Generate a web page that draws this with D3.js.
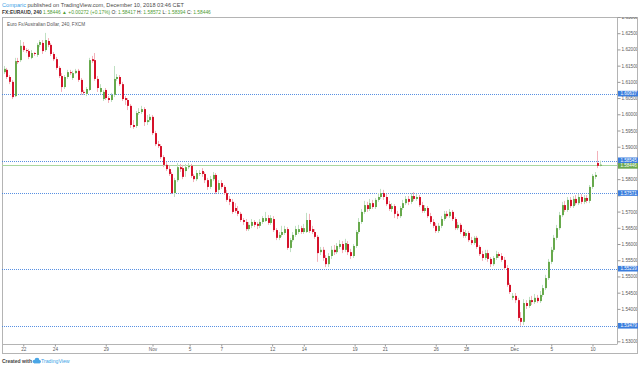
<!DOCTYPE html>
<html>
<head>
<meta charset="utf-8">
<script src="https://cdn.jsdelivr.net/npm/d3@7"></script>
<style>
body { margin: 0; background: #fff; }
svg { display: block; font-family: "Liberation Sans", Arial, sans-serif; }
</style>
</head>
<body>
<svg width="640" height="368"></svg>
<script>
// EURAUD 4h candles, Oct 19 - Dec 10 2018
var opens = [
  1.6130, 1.6137, 1.6115, 1.6100, 1.6056, 1.6164, 1.6167, 1.6211, 1.6198, 1.6195,
  1.6174, 1.6189, 1.6183, 1.6214, 1.6220, 1.6198, 1.6226, 1.6214, 1.6186, 1.6170,
  1.6143, 1.6118, 1.6084, 1.6115, 1.6130, 1.6112, 1.6127, 1.6134, 1.6106, 1.6069,
  1.6063, 1.6075, 1.6170, 1.6167, 1.6109, 1.6069, 1.6047, 1.6075, 1.6050, 1.6044,
  1.6060, 1.6109, 1.6115, 1.6093, 1.6050, 1.6044, 1.6026, 1.5967, 1.5964, 1.6004,
  1.6007, 1.6016, 1.5976, 1.5982, 1.5992, 1.5942, 1.5908, 1.5902, 1.5868, 1.5844,
  1.5831, 1.5816, 1.5757, 1.5797, 1.5837, 1.5834, 1.5825, 1.5837, 1.5841, 1.5810,
  1.5800, 1.5816, 1.5825, 1.5816, 1.5797, 1.5776, 1.5800, 1.5813, 1.5767, 1.5788,
  1.5776, 1.5757, 1.5739, 1.5730, 1.5711, 1.5702, 1.5693, 1.5674, 1.5668, 1.5646,
  1.5656, 1.5668, 1.5662, 1.5656, 1.5668, 1.5671, 1.5680, 1.5665, 1.5677, 1.5643,
  1.5619, 1.5628, 1.5634, 1.5646, 1.5588, 1.5612, 1.5628, 1.5637, 1.5649, 1.5637,
  1.5637, 1.5674, 1.5646, 1.5637, 1.5622, 1.5575, 1.5582, 1.5557, 1.5538, 1.5563,
  1.5582, 1.5575, 1.5591, 1.5600, 1.5582, 1.5600, 1.5575, 1.5563, 1.5594, 1.5637,
  1.5668, 1.5699, 1.5720, 1.5708, 1.5726, 1.5714, 1.5736, 1.5745, 1.5757, 1.5745,
  1.5723, 1.5708, 1.5717, 1.5693, 1.5686, 1.5711, 1.5726, 1.5739, 1.5730, 1.5748,
  1.5739, 1.5745, 1.5720, 1.5702, 1.5711, 1.5686, 1.5668, 1.5656, 1.5640, 1.5656,
  1.5677, 1.5693, 1.5686, 1.5699, 1.5677, 1.5649, 1.5659, 1.5637, 1.5625, 1.5634,
  1.5612, 1.5603, 1.5619, 1.5591, 1.5569, 1.5557, 1.5572, 1.5554, 1.5538, 1.5557,
  1.5569, 1.5563, 1.5551, 1.5526, 1.5474, 1.5434, 1.5440, 1.5427, 1.5372, 1.5360,
  1.5418, 1.5409, 1.5427, 1.5421, 1.5434, 1.5424, 1.5443, 1.5464, 1.5495, 1.5545,
  1.5582, 1.5619, 1.5649, 1.5689, 1.5720, 1.5705, 1.5736, 1.5717, 1.5739, 1.5726,
  1.5745, 1.5730, 1.5742, 1.5733, 1.5776, 1.5807, 1.5850, 1.58417
];
var highs = [
  1.6149, 1.6143, 1.6121, 1.6106, 1.6174, 1.6174, 1.6229, 1.6223, 1.6204, 1.6201,
  1.6198, 1.6192, 1.6220, 1.6229, 1.6229, 1.6251, 1.6235, 1.6220, 1.6192, 1.6177,
  1.6149, 1.6127, 1.6121, 1.6137, 1.6137, 1.6134, 1.6140, 1.6140, 1.6112, 1.6075,
  1.6084, 1.6174, 1.6180, 1.6189, 1.6118, 1.6093, 1.6075, 1.6081, 1.6056, 1.6066,
  1.6149, 1.6124, 1.6121, 1.6100, 1.6056, 1.6050, 1.6032, 1.5982, 1.6010, 1.6019,
  1.6026, 1.6022, 1.5998, 1.6001, 1.5998, 1.5949, 1.5918, 1.5908, 1.5874, 1.5853,
  1.5841, 1.5822, 1.5804, 1.5850, 1.5847, 1.5844, 1.5847, 1.5850, 1.5847, 1.5816,
  1.5828, 1.5828, 1.5834, 1.5822, 1.5804, 1.5810, 1.5822, 1.5819, 1.5797, 1.5797,
  1.5782, 1.5767, 1.5748, 1.5739, 1.5726, 1.5717, 1.5699, 1.5680, 1.5677, 1.5668,
  1.5677, 1.5674, 1.5668, 1.5677, 1.5686, 1.5699, 1.5689, 1.5689, 1.5686, 1.5649,
  1.5637, 1.5656, 1.5656, 1.5652, 1.5619, 1.5637, 1.5656, 1.5659, 1.5656, 1.5662,
  1.5696, 1.5693, 1.5656, 1.5646, 1.5628, 1.5591, 1.5591, 1.5566, 1.5572, 1.5594,
  1.5597, 1.5603, 1.5612, 1.5609, 1.5616, 1.5609, 1.5585, 1.5600, 1.5643, 1.5680,
  1.5708, 1.5733, 1.5730, 1.5739, 1.5736, 1.5742, 1.5757, 1.5770, 1.5767, 1.5754,
  1.5733, 1.5726, 1.5723, 1.5702, 1.5717, 1.5736, 1.5748, 1.5748, 1.5757, 1.5760,
  1.5754, 1.5751, 1.5730, 1.5720, 1.5717, 1.5696, 1.5677, 1.5665, 1.5665, 1.5686,
  1.5702, 1.5702, 1.5708, 1.5705, 1.5683, 1.5668, 1.5665, 1.5646, 1.5643, 1.5640,
  1.5622, 1.5625, 1.5625, 1.5597, 1.5579, 1.5582, 1.5582, 1.5560, 1.5563, 1.5579,
  1.5575, 1.5572, 1.5560, 1.5535, 1.5480, 1.5449, 1.5449, 1.5434, 1.5390, 1.5430,
  1.5427, 1.5437, 1.5440, 1.5446, 1.5443, 1.5455, 1.5474, 1.5505, 1.5554, 1.5591,
  1.5628, 1.5659, 1.5699, 1.5730, 1.5733, 1.5745, 1.5745, 1.5748, 1.5751, 1.5754,
  1.5754, 1.5751, 1.5751, 1.5782, 1.5816, 1.5822, 1.5887, 1.58572
];
var lows = [
  1.6124, 1.6109, 1.6093, 1.6047, 1.6053, 1.6155, 1.6161, 1.6192, 1.6189, 1.6170,
  1.6170, 1.6180, 1.6177, 1.6207, 1.6186, 1.6192, 1.6207, 1.6180, 1.6164, 1.6137,
  1.6112, 1.6069, 1.6078, 1.6109, 1.6121, 1.6106, 1.6124, 1.6100, 1.6060, 1.6060,
  1.6056, 1.6072, 1.6158, 1.6103, 1.6069, 1.6063, 1.6041, 1.6044, 1.6035, 1.6038,
  1.6053, 1.6103, 1.6087, 1.6041, 1.6029, 1.6013, 1.5958, 1.5955, 1.5958, 1.5998,
  1.6001, 1.5964, 1.5967, 1.5976, 1.5936, 1.5902, 1.5896, 1.5862, 1.5837, 1.5825,
  1.5810, 1.5754, 1.5745, 1.5791, 1.5822, 1.5800, 1.5807, 1.5831, 1.5804, 1.5791,
  1.5794, 1.5810, 1.5807, 1.5788, 1.5767, 1.5770, 1.5794, 1.5754, 1.5757, 1.5770,
  1.5751, 1.5730, 1.5720, 1.5693, 1.5696, 1.5686, 1.5668, 1.5659, 1.5640, 1.5640,
  1.5649, 1.5652, 1.5646, 1.5649, 1.5662, 1.5668, 1.5659, 1.5659, 1.5637, 1.5612,
  1.5612, 1.5622, 1.5628, 1.5582, 1.5575, 1.5606, 1.5622, 1.5631, 1.5631, 1.5631,
  1.5634, 1.5634, 1.5631, 1.5616, 1.5545, 1.5566, 1.5548, 1.5529, 1.5529, 1.5554,
  1.5566, 1.5569, 1.5585, 1.5572, 1.5575, 1.5566, 1.5554, 1.5557, 1.5588, 1.5631,
  1.5662, 1.5693, 1.5699, 1.5702, 1.5708, 1.5708, 1.5730, 1.5739, 1.5736, 1.5717,
  1.5702, 1.5699, 1.5680, 1.5677, 1.5680, 1.5705, 1.5720, 1.5720, 1.5723, 1.5733,
  1.5733, 1.5714, 1.5696, 1.5696, 1.5680, 1.5662, 1.5649, 1.5634, 1.5634, 1.5649,
  1.5671, 1.5680, 1.5680, 1.5671, 1.5643, 1.5643, 1.5631, 1.5619, 1.5619, 1.5606,
  1.5597, 1.5597, 1.5585, 1.5563, 1.5548, 1.5551, 1.5545, 1.5529, 1.5532, 1.5551,
  1.5557, 1.5545, 1.5520, 1.5468, 1.5446, 1.5427, 1.5418, 1.5363, 1.5348, 1.5350,
  1.5400, 1.5403, 1.5412, 1.5415, 1.5418, 1.5418, 1.5437, 1.5458, 1.5489, 1.5538,
  1.5575, 1.5612, 1.5643, 1.5683, 1.5699, 1.5699, 1.5711, 1.5711, 1.5720, 1.5720,
  1.5723, 1.5723, 1.5726, 1.5726, 1.5770, 1.5800, 1.5834, 1.58394
];
var closes = [
  1.6140, 1.6115, 1.6100, 1.6053, 1.6164, 1.6161, 1.6211, 1.6198, 1.6195, 1.6177,
  1.6189, 1.6186, 1.6214, 1.6223, 1.6195, 1.6229, 1.6214, 1.6186, 1.6170, 1.6143,
  1.6118, 1.6084, 1.6115, 1.6130, 1.6127, 1.6127, 1.6134, 1.6106, 1.6069, 1.6066,
  1.6078, 1.6167, 1.6164, 1.6109, 1.6081, 1.6081, 1.6069, 1.6050, 1.6044, 1.6060,
  1.6109, 1.6115, 1.6093, 1.6047, 1.6044, 1.6026, 1.5967, 1.5961, 1.6004, 1.6007,
  1.6016, 1.5976, 1.5982, 1.5992, 1.5942, 1.5908, 1.5902, 1.5868, 1.5844, 1.5831,
  1.5816, 1.5757, 1.5797, 1.5837, 1.5831, 1.5807, 1.5837, 1.5841, 1.5810, 1.5800,
  1.5819, 1.5819, 1.5816, 1.5797, 1.5776, 1.5800, 1.5813, 1.5760, 1.5788, 1.5776,
  1.5757, 1.5736, 1.5730, 1.5699, 1.5702, 1.5693, 1.5674, 1.5668, 1.5646, 1.5659,
  1.5668, 1.5659, 1.5656, 1.5668, 1.5680, 1.5680, 1.5665, 1.5680, 1.5643, 1.5619,
  1.5628, 1.5637, 1.5646, 1.5588, 1.5612, 1.5628, 1.5646, 1.5646, 1.5637, 1.5649,
  1.5674, 1.5640, 1.5637, 1.5622, 1.5572, 1.5582, 1.5557, 1.5538, 1.5563, 1.5582,
  1.5575, 1.5594, 1.5600, 1.5582, 1.5603, 1.5575, 1.5563, 1.5594, 1.5637, 1.5668,
  1.5699, 1.5720, 1.5708, 1.5726, 1.5714, 1.5736, 1.5745, 1.5757, 1.5745, 1.5723,
  1.5708, 1.5717, 1.5693, 1.5686, 1.5711, 1.5726, 1.5739, 1.5730, 1.5748, 1.5739,
  1.5745, 1.5720, 1.5702, 1.5711, 1.5686, 1.5668, 1.5656, 1.5640, 1.5656, 1.5677,
  1.5693, 1.5686, 1.5699, 1.5677, 1.5649, 1.5659, 1.5637, 1.5625, 1.5634, 1.5612,
  1.5603, 1.5619, 1.5591, 1.5569, 1.5557, 1.5572, 1.5554, 1.5538, 1.5557, 1.5569,
  1.5563, 1.5551, 1.5526, 1.5474, 1.5452, 1.5440, 1.5427, 1.5372, 1.5360, 1.5418,
  1.5409, 1.5427, 1.5421, 1.5434, 1.5424, 1.5443, 1.5464, 1.5495, 1.5545, 1.5582,
  1.5619, 1.5649, 1.5689, 1.5720, 1.5705, 1.5736, 1.5717, 1.5739, 1.5726, 1.5745,
  1.5730, 1.5742, 1.5733, 1.5776, 1.5810, 1.5813, 1.5841, 1.58446
];

// date labels and the candle index they sit on
var dayLabels = ["22", "24", "29", "Nov", "5", "7", "12", "14", "19", "21", "26", "28", "Dec", "5", "10"];
var dayIndex = [7, 18.5, 37, 54, 67.5, 79, 97.5, 109, 127.5, 138.5, 157, 168, 185.5, 199, 214];

// horizontal lines drawn on the chart
var levels = [1.60637, 1.58545, 1.57571, 1.55239, 1.53479];
var lastPrice = 1.58446;

var svg = d3.select("svg"),
    width = +svg.attr("width"),
    height = +svg.attr("height");

var plotLeft = 2, plotRight = 617, plotTop = 17, plotBottom = 344,
    frameRight = 637, frameBottom = 353;

var upColor = "#67a94c", downColor = "#d5112a",
    upWick = "#bfe0c2", downWick = "#f3b1ba",
    levelColor = "#3b7ddd", frameColor = "#b4b4b4", textColor = "#5a5a5a";

var candles = opens.map(function(o, i) {
    return { i: i, o: o, h: highs[i], l: lows[i], c: closes[i] };
});

var x = d3.scaleLinear().domain([-0.73, 222.91]).range([plotLeft, plotRight]);
var y = d3.scaleLinear().domain([1.52917, 1.63]).range([plotBottom, plotTop]);

svg.append("rect").attr("width", width).attr("height", height).attr("fill", "#fff");

var defs = svg.append("defs");
defs.append("clipPath").attr("id", "plot")
    .append("rect").attr("x", plotLeft).attr("y", plotTop)
    .attr("width", plotRight - plotLeft).attr("height", plotBottom - plotTop);
defs.append("clipPath").attr("id", "scale")
    .append("rect").attr("x", plotRight).attr("y", plotTop)
    .attr("width", frameRight - plotRight).attr("height", frameBottom - plotTop);

// header
var head1 = svg.append("text").attr("x", 2).attr("y", 6.5)
    .style("font-size", "5.6px").attr("fill", "#4a4a4a");
head1.append("tspan").attr("fill", "#3b9fe6").text("Comparic");
head1.append("tspan").text(" published on TradingView.com, December 10, 2018 03:46 CET");

var head2 = svg.append("text").attr("x", 2).attr("y", 13.5)
    .style("font-size", "4.9px").attr("fill", "#333");
var green = "#4f9d35";
head2.append("tspan").style("font-weight", "bold").text("FX:EURAUD, 240");
[[" 1.58446 \u25B2 +0.00272 (+0.17%)", green], [" O: ", "#333"], ["1.58417", green],
 [" H: ", "#333"], ["1.58572", green], [" L: ", "#333"], ["1.58394", green],
 [" C: ", "#333"], ["1.58446", green]].forEach(function(p) {
    head2.append("tspan").attr("fill", p[1]).style("white-space", "pre").text(p[0]);
});

// frame
svg.append("rect")
    .attr("x", plotLeft + 0.5).attr("y", plotTop + 0.5)
    .attr("width", frameRight - plotLeft).attr("height", frameBottom - plotTop)
    .attr("fill", "none").attr("stroke", frameColor);

svg.append("text").attr("x", 7).attr("y", 25.8)
    .style("font-size", "4.7px").attr("fill", "#555")
    .text("Euro Fx/Australian Dollar, 240, FXCM");

var plot = svg.append("g").attr("clip-path", "url(#plot)");

// last price line
plot.append("line")
    .attr("x1", plotLeft).attr("x2", plotRight)
    .attr("y1", Math.round(y(lastPrice)) + 0.5).attr("y2", Math.round(y(lastPrice)) + 0.5)
    .attr("stroke", "#aad6a0").attr("stroke-width", 1);

plot.selectAll(".level")
    .data(levels)
    .enter().append("line")
    .attr("class", "level")
    .attr("x1", plotLeft).attr("x2", plotRight)
    .attr("y1", function(d) { return Math.round(y(d)) + 0.5; })
    .attr("y2", function(d) { return Math.round(y(d)) + 0.5; })
    .attr("stroke", levelColor).attr("stroke-width", 1)
    .attr("stroke-dasharray", "1,1").attr("opacity", 0.85);

plot.selectAll(".wick")
    .data(candles)
    .enter().append("line")
    .attr("class", "wick")
    .attr("x1", function(d) { return Math.floor(x(d.i)) + 0.5; })
    .attr("x2", function(d) { return Math.floor(x(d.i)) + 0.5; })
    .attr("y1", function(d) { return y(d.h); })
    .attr("y2", function(d) { return y(d.l); })
    .attr("stroke", function(d) { return d.c >= d.o ? upWick : downWick; })
    .attr("stroke-width", 1);

plot.selectAll(".body")
    .data(candles)
    .enter().append("rect")
    .attr("class", "body")
    .attr("x", function(d) { return Math.floor(x(d.i)); })
    .attr("width", 2)
    .attr("y", function(d) { return y(Math.max(d.o, d.c)); })
    .attr("height", function(d) { return Math.max(1, Math.abs(y(d.o) - y(d.c))); })
    .attr("fill", function(d) { return d.c >= d.o ? upColor : downColor; });

// price scale
svg.append("line")
    .attr("x1", plotRight + 0.5).attr("x2", plotRight + 0.5)
    .attr("y1", plotTop).attr("y2", plotBottom)
    .attr("stroke", frameColor);

var tags = levels.map(function(p) { return { p: p, fill: levelColor }; })
    .concat([{ p: lastPrice, fill: "#6aa84f" }]);

var yAxis = svg.append("g")
    .attr("clip-path", "url(#scale)")
    .append("g")
    .attr("transform", "translate(" + (plotRight + 0.5) + ",0)")
    .call(d3.axisRight(y).ticks(20).tickSize(3).tickPadding(1).tickFormat(d3.format(".5f")));
yAxis.select(".domain").remove();
yAxis.selectAll("line").attr("stroke", "#999");
yAxis.selectAll("text").attr("fill", textColor).style("font-size", "4.7px")
    .style("font-family", "'Liberation Sans', Arial, sans-serif");
// tick labels hidden behind a tag are dropped, as the scale does
yAxis.selectAll(".tick")
    .filter(function(d) {
        return tags.some(function(t) { return Math.abs(y(t.p) - y(d)) < 4; });
    })
    .select("text").remove();

// spread tags that sit on top of each other
var tagY = tags.map(function(t) { return y(t.p); });
tags.forEach(function(a, i) {
    tags.forEach(function(b, j) {
        if (j <= i) return;
        var gap = tagY[j] - tagY[i];
        if (Math.abs(gap) < 5.6) {
            var push = (5.6 - Math.abs(gap)) / 2 * (gap >= 0 ? 1 : -1);
            tagY[i] -= push;
            tagY[j] += push;
        }
    });
});

var tag = svg.selectAll(".tag")
    .data(tags)
    .enter().append("g")
    .attr("class", "tag")
    .attr("transform", function(d, i) { return "translate(" + (plotRight + 1) + "," + tagY[i] + ")"; });
tag.append("rect")
    .attr("x", 0).attr("y", -2.8).attr("width", 20).attr("height", 5.6)
    .attr("fill", function(d) { return d.fill; });
tag.append("text")
    .attr("x", 2.5).attr("y", 1.6)
    .style("font-size", "4.5px").attr("fill", "#fff")
    .text(function(d) { return d.p.toFixed(5); });

// time scale
svg.append("line")
    .attr("x1", plotLeft).attr("x2", plotRight + 0.5)
    .attr("y1", plotBottom + 0.5).attr("y2", plotBottom + 0.5)
    .attr("stroke", frameColor);

var xAxis = svg.append("g")
    .attr("transform", "translate(0," + (plotBottom + 0.5) + ")")
    .call(d3.axisBottom(x).tickValues(dayIndex).tickSize(2).tickPadding(1.2)
        .tickFormat(function(d, i) { return dayLabels[i]; }));
xAxis.select(".domain").remove();
xAxis.selectAll("line").attr("stroke", "#999");
xAxis.selectAll("text").attr("fill", textColor).style("font-size", "4.7px")
    .style("font-family", "'Liberation Sans', Arial, sans-serif");

// footer
svg.append("text").attr("x", 2).attr("y", 363)
    .style("font-size", "5px").style("font-weight", "bold").attr("fill", "#444")
    .text("Created with");
var logo = svg.append("g").attr("transform", "translate(36,361)").attr("fill", "#4aa6e6");
logo.append("circle").attr("cx", -1.5).attr("cy", 0.5).attr("r", 1.8);
logo.append("circle").attr("cx", 1).attr("cy", -0.8).attr("r", 2.4);
logo.append("circle").attr("cx", 3.4).attr("cy", 0.6).attr("r", 1.6);
logo.append("rect").attr("x", -1.8).attr("y", 0.5).attr("width", 5.4).attr("height", 1.9);
svg.append("text").attr("x", 41).attr("y", 363)
    .style("font-size", "5.2px").attr("fill", "#3b9fe6")
    .text("TradingView");
</script>
</body>
</html>
